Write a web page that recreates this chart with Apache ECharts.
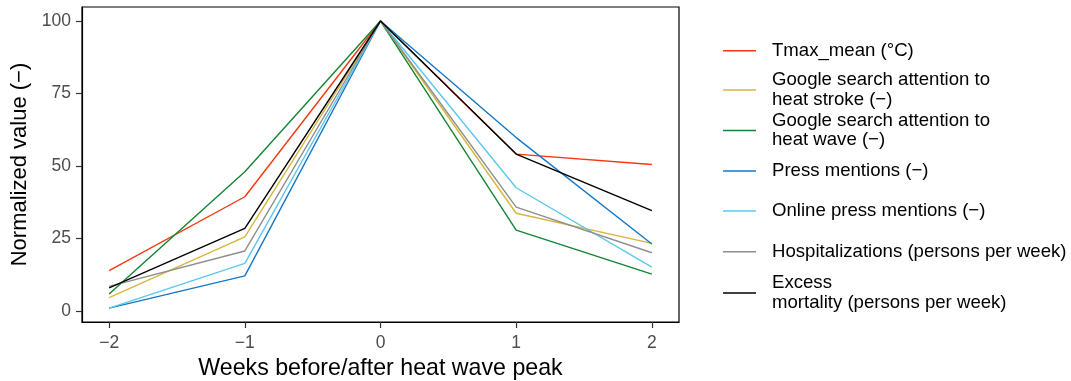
<!DOCTYPE html>
<html><head><meta charset="utf-8">
<script src="https://cdn.jsdelivr.net/npm/echarts@6/dist/echarts.min.js"></script>
<style>html,body{margin:0;padding:0;background:#fff}#c{width:1071px;height:381px}</style>
</head><body><div id="c"></div>
<script>
const weeks = [-2, -1, 0, 1, 2];
const xTicks = [-2, -1, 0, 1, 2];
const yTicks = [0, 25, 50, 75, 100];
const seriesNames = [
  'Tmax_mean (°C)',
  'Google search attention to\nheat stroke (−)',
  'Google search attention to\nheat wave (−)',
  'Press mentions (−)',
  'Online press mentions (−)',
  'Hospitalizations (persons per week)',
  'Excess\nmortality (persons per week)'
];
const tmax = [13.9, 39.4, 100, 54.1, 50.5];
const googleStroke = [4.6, 25.6, 100, 33.7, 23.3];
const googleWave = [5.9, 48.0, 100, 27.9, 12.7];
const press = [1.0, 12.1, 100, 59.8, 23.1];
const onlinePress = [1.0, 16.4, 100, 42.5, 15.1];
const hospital = [8.5, 20.7, 100, 35.8, 20.1];
const mortality = [8.0, 28.5, 100, 54.1, 34.6];
const seriesValues = [tmax, googleStroke, googleWave, press, onlinePress, hospital, mortality];
const colors = ['#F5380F', '#D8B63E', '#138534', '#1577C6', '#5CC8EE', '#8E8E8E', '#000000'];
const legendCenters = [50.7, 90, 130.5, 171, 211, 251.7, 293];
const legendLines = [1, 2, 2, 1, 1, 1, 2];

const fmt = v => (v < 0 ? '\u2212' + Math.abs(v) : String(v));
const chart = echarts.init(document.getElementById('c'), null, {renderer: 'canvas'});
const lh = 19.5;
chart.setOption({
  animation: false,
  color: colors,
  grid: {left: 82, right: 392, top: 7, bottom: 59, show: true, borderColor: '#000', borderWidth: 1.2, containLabel: false, outerBoundsMode: 'none'},
  xAxis: {
    type: 'value', min: -2.2, max: 2.2,
    name: 'Weeks before/after heat wave peak', nameLocation: 'middle', nameGap: 33,
    nameTextStyle: {fontFamily: 'Liberation Sans', fontSize: 23.2, color: '#000'},
    axisLine: {show: true, onZero: false, lineStyle: {color: '#000', width: 1.2}},
    axisTick: {show: true, length: 6, lineStyle: {color: '#333', width: 1.2}, customValues: xTicks},
    axisLabel: {customValues: xTicks, formatter: fmt, fontFamily: 'Liberation Sans', fontSize: 17.5, color: '#4D4D4D', margin: 12},
    splitLine: {show: false}
  },
  yAxis: {
    type: 'value', min: -3.79, max: 104.83,
    name: 'Normalized value (\u2212)', nameLocation: 'middle', nameGap: 50, nameRotate: 90,
    nameTextStyle: {fontFamily: 'Liberation Sans', fontSize: 22, color: '#000'},
    axisLine: {show: true, onZero: false, lineStyle: {color: '#000', width: 1.2}},
    axisTick: {show: true, length: 6, lineStyle: {color: '#333', width: 1.2}, customValues: yTicks},
    axisLabel: {customValues: yTicks, fontFamily: 'Liberation Sans', fontSize: 17.5, color: '#4D4D4D', margin: 11},
    splitLine: {show: false}
  },
  legend: seriesNames.map((n, i) => ({
    data: [n], left: 723, top: legendCenters[i] - legendLines[i] * lh / 2,
    orient: 'vertical', icon: 'rect', itemWidth: 33, itemHeight: 1.6,
    selectedMode: false, padding: 0,
    textStyle: {fontFamily: 'Liberation Sans', fontSize: 18.6, color: '#000', lineHeight: lh, padding: [0, 0, 0, 11]}
  })),
  series: seriesNames.map((n, i) => ({
    name: n, type: 'line', symbol: 'none', silent: true,
    lineStyle: {width: 1.4, color: colors[i]}, itemStyle: {color: colors[i]},
    data: weeks.map((w, j) => [w, seriesValues[i][j]])
  }))
});
</script></body></html>
